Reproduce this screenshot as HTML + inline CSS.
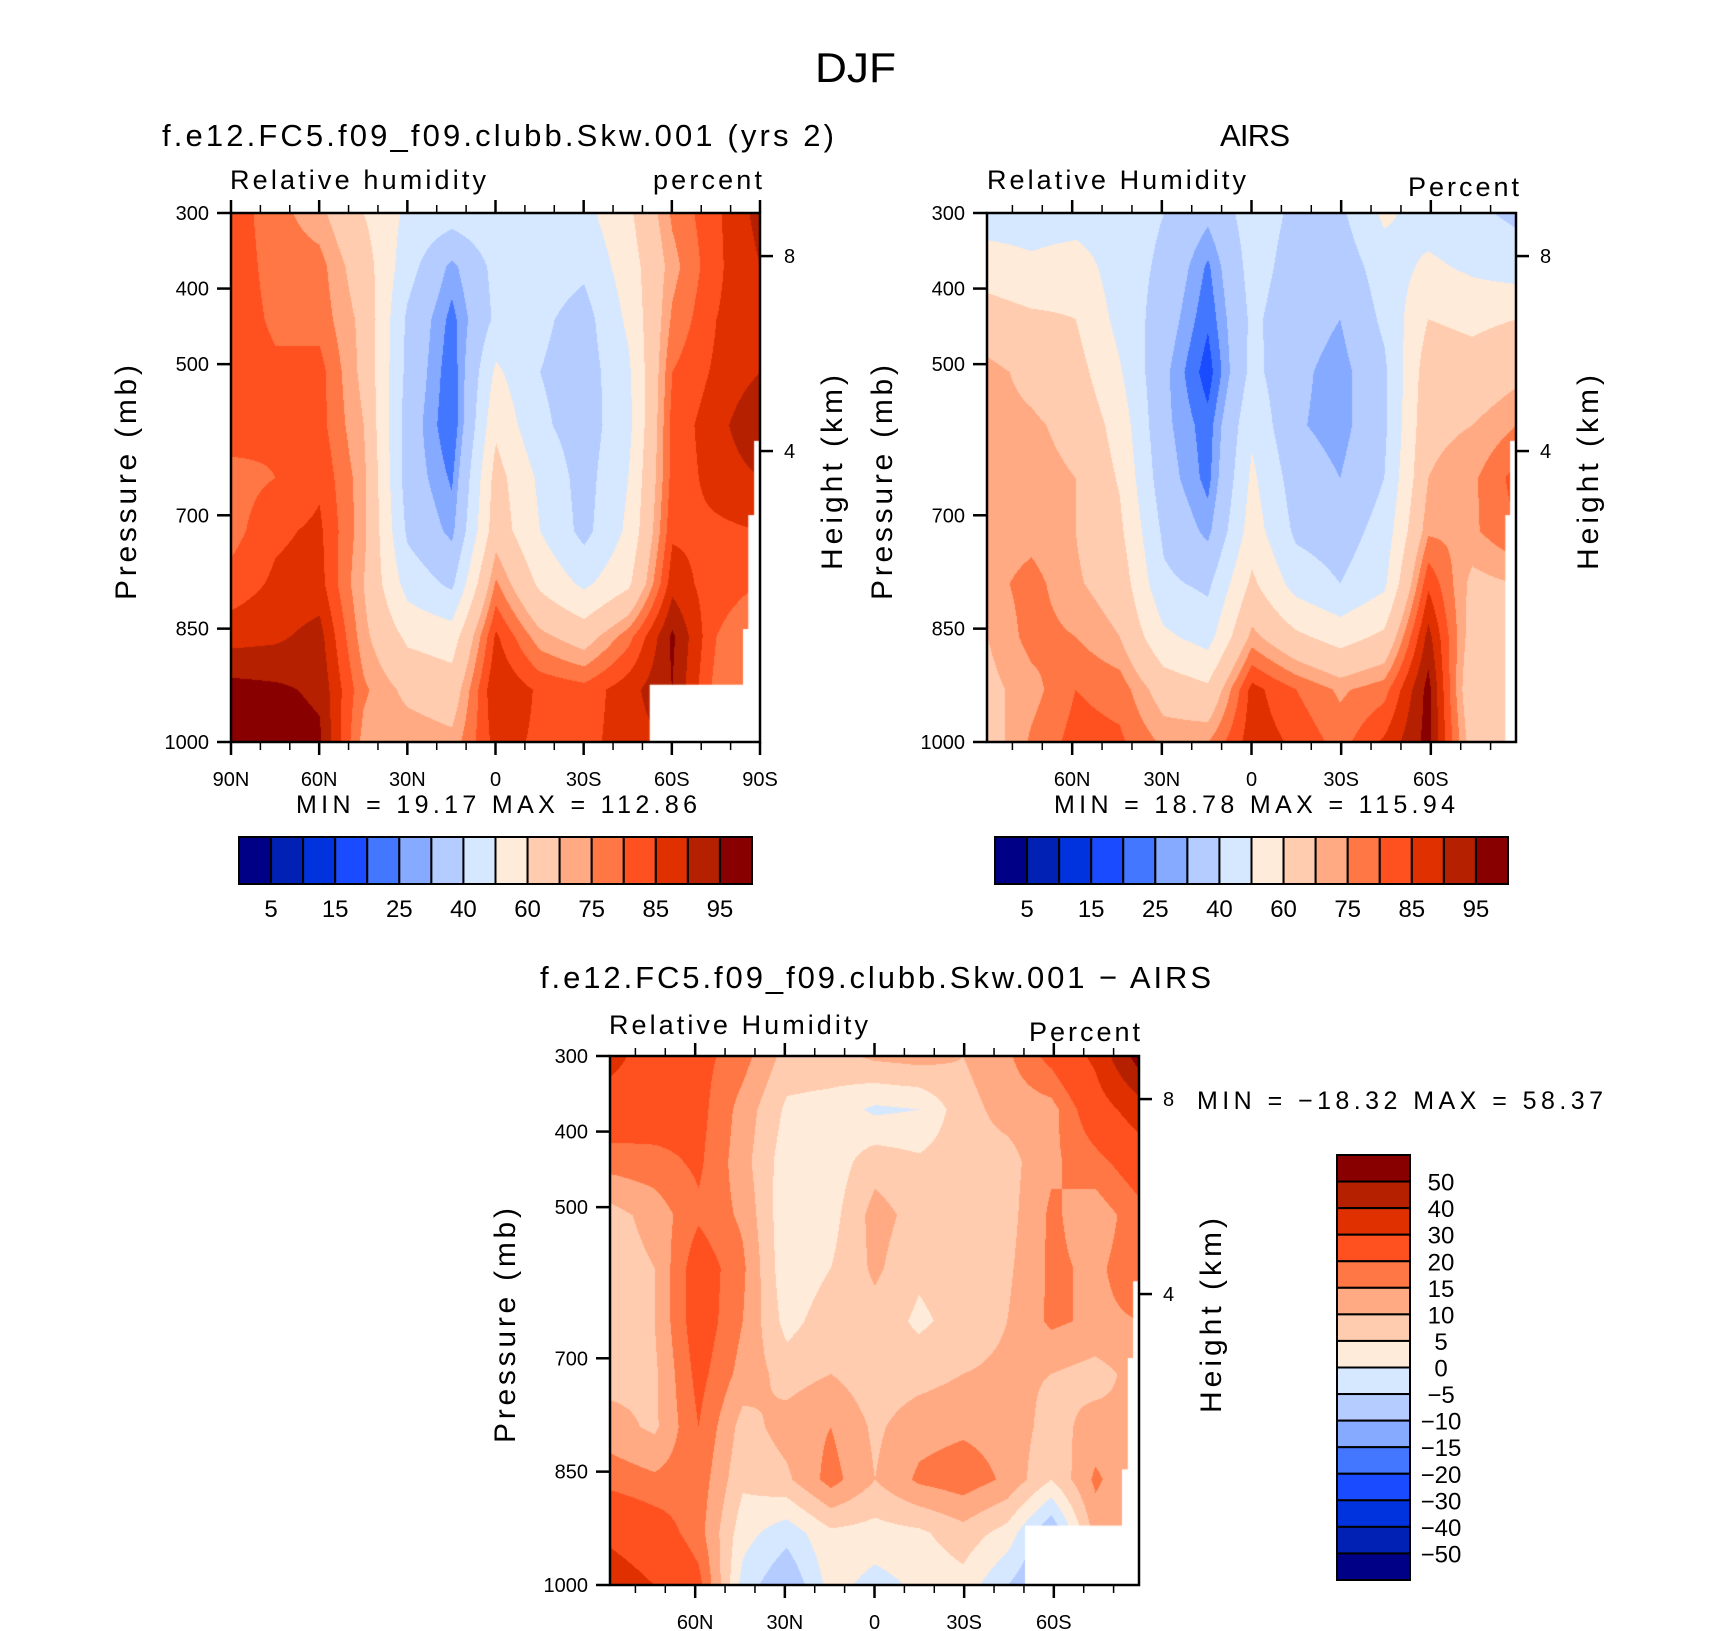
<!DOCTYPE html>
<html><head><meta charset="utf-8"><style>
body{margin:0;background:#fff;width:1710px;height:1631px;position:relative;overflow:hidden;font-family:"Liberation Sans",sans-serif}
canvas{position:absolute}
svg{position:absolute;left:0;top:0}
</style></head><body>
<canvas id="c1" width="530" height="530" style="left:231px;top:213px"></canvas>
<canvas id="c2" width="530" height="530" style="left:987px;top:213px"></canvas>
<canvas id="c3" width="530" height="530" style="left:610px;top:1056px"></canvas>
<svg id="ov" width="1710" height="1631" font-family="Liberation Sans, sans-serif">
<text x="815" y="82" font-size="42" textLength="81" lengthAdjust="spacingAndGlyphs">DJF</text>
</svg>
<script>
// ---- data (columns = latitude nodes N->S, rows = pressure nodes 300->1000) ----
const colorsRH = ["#000087","#0021B3","#0033DD","#1A4BFF","#4477FF","#85AAFF","#B4CCFF","#D6E8FF","#FFEBD9","#FFCCB0","#FFAA82","#FF7744","#FF5020","#E03000","#B52000","#880000"];
const boundsRH = [5,10,15,20,25,30,40,50,60,70,75,80,85,90,95];
const labelsRH = ["5","15","25","40","60","75","85","95"];
const boundsDiff = [-50,-40,-30,-20,-15,-10,-5,0,5,10,15,20,30,40,50];
const labelsDiff = ["50","40","30","20","15","10","5","0","\u22125","\u221210","\u221215","\u221220","\u221230","\u221240","\u221250"];
const pressureTicks = [300,400,500,700,850,1000];
const heightTicks = [{km:"8",p:357},{km:"4",p:615}];
const modelRH = [
[83,83,83,83,83,78,78,82,88,97,98],
[77,78,79,81,81,80,84,86,89,96,98],
[72,77,78,82,82,84,86,87,92,94,96],
[60,65,68,68,70,72,72,70,72,76,73],
[48,44,38,37,35,35,38,46,58,68,74],
[45,28,23,21,20,24,28,38,55,65,72],
[48,43,42,52,58,64,66,76,86,90,87],
[45,45,42,40,42,48,50,58,72,84,84],
[47,42,36,35,35,36,37,48,66,82,83],
[58,55,52,48,47,50,52,58,78,88,88],
[76,73,76,80,82,82,84,88,96,95,90],
[84,84,85,86,88,87,84,82,80,78,78],
[92,90,88,90,95,90,85,80,76,75,75]];
const airsRH = [
[45,55,65,72,72,72,72,73,70,68,66],
[45,52,62,68,71,72,73,77,77,73,76],
[45,55,60,64,68,70,70,71,75,80,82],
[45,45,47,51,56,59,62,66,70,78,81],
[40,38,35,32,32,34,38,42,52,66,74],
[32,24,21,17,22,23,28,38,46,62,75],
[45,44,42,43,48,52,55,62,72,87,88],
[38,36,34,32,31,35,38,46,62,80,84],
[38,34,30,27,27,30,35,40,56,74,78],
[52,45,42,38,38,40,44,48,62,78,86],
[45,52,60,66,68,70,74,84,92,97,97],
[42,48,58,64,70,74,74,68,66,62,66],
[38,45,60,68,75,82,80,70,66,62,66]];
const diffRH = [
[33,25,17,8,7,7,8,12,18,28,35],
[25,24,18,12,10,10,9,9,16,24,30],
[22,22,21,19,24,24,22,20,18,17,22],
[17,13,12,14,16,15,13,8,6,2,-2],
[8,4,2,1,1,3,8,12,9,-3,-10],
[8,3,2,3,5,8,10,15,17,4,2],
[11,-1,8,12,11,8,7,9,10,3,-2],
[12,0,6,8,6,4,8,13,16,4,1],
[10,8,8,8,8,7,10,14,18,8,3],
[14,12,8,8,9,10,11,13,14,3,-5],
[22,13,14,16,16,16,10,8,5,-10,-12],
[32,25,18,12,14,14,8,12,16,12,10],
[55,35,24,18,18,15,12,10,10,10,10]];

function hex(c){return [parseInt(c.slice(1,3),16),parseInt(c.slice(3,5),16),parseInt(c.slice(5,7),16)];}
function render(id,grid,bounds,masks){
  const cv=document.getElementById(id),ctx=cv.getContext('2d'),W=cv.width,H=cv.height;
  const img=ctx.createImageData(W,H),rgb=colorsRH.map(hex);
  const nc=grid.length-1,nr=grid[0].length-1;
  for(let y=0;y<H;y++){const v=y/(H-1)*nr,r=Math.min(Math.floor(v),nr-1),fv=v-r;
    for(let x=0;x<W;x++){const u=x/(W-1)*nc,c=Math.min(Math.floor(u),nc-1),fu=u-c;
      const val=(grid[c][r]*(1-fu)+grid[c+1][r]*fu)*(1-fv)+(grid[c][r+1]*(1-fu)+grid[c+1][r+1]*fu)*fv;
      let k=0;while(k<bounds.length&&val>=bounds[k])k++;
      const i=(y*W+x)*4;img.data[i]=rgb[k][0];img.data[i+1]=rgb[k][1];img.data[i+2]=rgb[k][2];img.data[i+3]=255;}}
  ctx.putImageData(img,0,0);
  ctx.fillStyle='#fff';
  masks.forEach(m=>ctx.fillRect(m[0]*W,m[1]*H,(m[2]-m[0])*W,(m[3]-m[1])*H));
}
render('c1',modelRH,boundsRH,[[0.79,0.89,1,1],[0.987,0.43,1,1],[0.976,0.57,1,1],[0.966,0.785,1,1]]);
render('c2',airsRH,boundsRH,[[0.987,0.43,1,1],[0.978,0.57,1,1]]);
render('c3',diffRH,boundsDiff,[[0.783,0.886,1,1],[0.987,0.425,1,1],[0.977,0.57,1,1],[0.966,0.78,1,1]]);

const NS='http://www.w3.org/2000/svg',ov=document.getElementById('ov');
function el(tag,attrs,txt){const e=document.createElementNS(NS,tag);for(const k in attrs)e.setAttribute(k,attrs[k]);if(txt!==undefined)e.textContent=txt;ov.appendChild(e);return e;}
function latName(l){return l===0?"0":(Math.abs(l)+(l>0?"N":"S"));}

function panel(L,T,S,latMax,labelLats,pfx){
  const px=lat=>L+(latMax-lat)/(2*latMax)*S, py=p=>T+(p-300)/700*S;
  let e=el('rect',{x:L,y:T,width:S,height:S,fill:'none',stroke:'#000','stroke-width':2.5});
  
  
  for(let lat=-90;lat<=90;lat+=10){ if(Math.abs(lat)>latMax+0.01)continue;
    const x=px(lat),maj=lat%30===0,len=maj?13:8;
    e=el('line',{x1:x,y1:T,x2:x,y2:T-len,stroke:'#000','stroke-width':maj?2.5:1.5});
    
    
    e=el('line',{x1:x,y1:T+S,x2:x,y2:T+S+len,stroke:'#000','stroke-width':maj?2.5:1.5});
    
    
  }
  labelLats.forEach(lat=>{
    e=el('text',{x:px(lat),y:T+S+44,'font-size':20,'text-anchor':'middle'},latName(lat));
    
    
  });
  pressureTicks.forEach(p=>{
    e=el('line',{x1:L,y1:py(p),x2:L-14,y2:py(p),stroke:'#000','stroke-width':2.5});
    
    
    e=el('text',{x:L-22,y:py(p)+7,'font-size':20,'text-anchor':'end'},String(p));
    
    
  });
  heightTicks.forEach(h=>{
    e=el('line',{x1:L+S,y1:py(h.p),x2:L+S+13,y2:py(h.p),stroke:'#000','stroke-width':2.5});
    
    
    e=el('text',{x:L+S+24,y:py(h.p)+7,'font-size':20},h.km);
    
    
  });
  e=el('text',{x:0,y:0,'font-size':30,'text-anchor':'middle',textLength:235,lengthAdjust:'spacing',transform:`translate(${L-95},${T+S/2+5}) rotate(-90)`},'Pressure (mb)');
  
  
  e=el('text',{x:0,y:0,'font-size':30,'text-anchor':'middle',textLength:195,lengthAdjust:'spacing',transform:`translate(${L+S+82},${T+S/2-5}) rotate(-90)`},'Height (km)');
  
  
}
panel(231,213,529,90,[90,60,30,0,-30,-60,-90],'model');
panel(987,213,529,88.5,[60,30,0,-30,-60],'airs');
panel(610,1056,529,88.5,[60,30,0,-30,-60],'diff');

function txt(x,y,s,t,len,name){const e=el('text',{x:x,y:y,'font-size':s,textLength:len,lengthAdjust:'spacing','xml:space':'preserve'},t);
  
  }
txt(162,146,31,'f.e12.FC5.f09_f09.clubb.Skw.001 (yrs 2)',672,'model-title');
txt(230,189,27,'Relative humidity',256,'model-variable-label');
txt(653,189,27,'percent',109,'model-units-label');
txt(1220,146,31,'AIRS',70,'airs-title');
txt(987,189,27,'Relative Humidity',259,'airs-variable-label');
txt(1408,196,27,'Percent',111,'airs-units-label');
txt(540,988,31,'f.e12.FC5.f09_f09.clubb.Skw.001 \u2212 AIRS',671,'difference-title');
txt(609,1034,27,'Relative Humidity',259,'difference-variable-label');
txt(1029,1041,27,'Percent',111,'difference-units-label');
txt(296,813,25,'MIN =   19.17   MAX = 112.86',401,'model-min-max');
txt(1054,813,25,'MIN =   18.78   MAX = 115.94',401,'airs-min-max');
txt(1197,1109,25,'MIN = \u221218.32   MAX =   58.37',406,'difference-min-max');

function hbar(L,T,W,H,pfx){
  const bw=W/16;
  for(let i=0;i<16;i++){const e=el('rect',{x:L+i*bw,y:T,width:bw,height:H,fill:colorsRH[i],stroke:'#000','stroke-width':2});
    
    }
  labelsRH.forEach((t,j)=>{const e=el('text',{x:L+(2*j+1)*bw,y:T+H+33,'font-size':24,'text-anchor':'middle'},t);
    
    });
}
hbar(239,837,513,47,'model');
hbar(995,837,513,47,'airs');
(function(){
  const L=1337,T=1155,W=73,H=425,bh=H/16;
  for(let i=0;i<16;i++){const e=el('rect',{x:L,y:T+i*bh,width:W,height:bh,fill:colorsRH[15-i],stroke:'#000','stroke-width':2});
    
    }
  labelsDiff.forEach((t,j)=>{const e=el('text',{x:1441,y:T+(j+1)*bh+9,'font-size':24,'text-anchor':'middle'},t);
    
    });
})();
</script>
</body></html>
